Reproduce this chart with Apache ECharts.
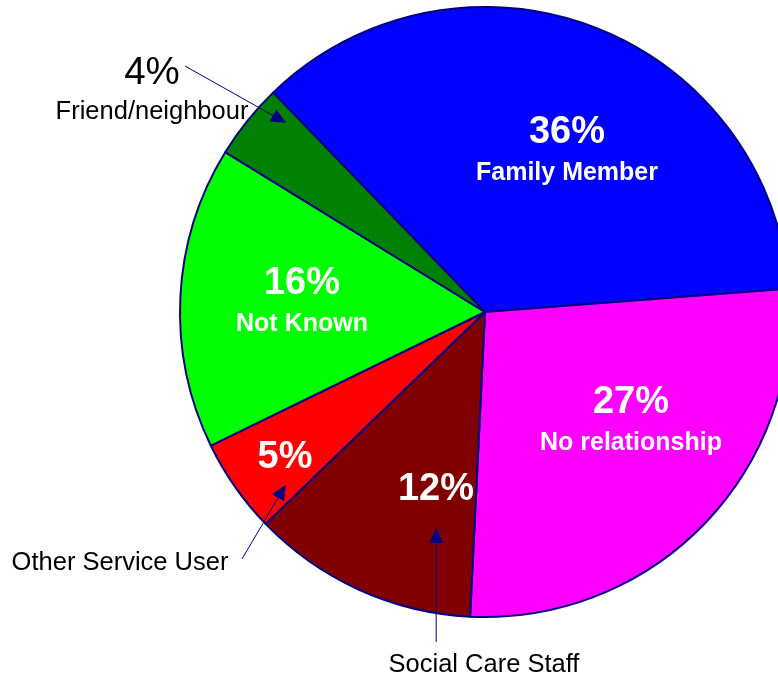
<!DOCTYPE html>
<html>
<head>
<meta charset="utf-8">
<script src="https://cdn.jsdelivr.net/npm/echarts@6/dist/echarts.min.js"></script>
<style>
  html, body { margin: 0; padding: 0; background: #ffffff; }
  #chart { width: 778px; height: 679px; }
</style>
</head>
<body>
<div id="chart"></div>
<script>
// Who the alleged abuser was, share of referrals (%)
const categories = ['Family Member', 'No relationship', 'Social Care Staff', 'Other Service User', 'Not Known', 'Friend/neighbour'];
const shares = [36, 27, 12, 5, 16, 4];

// Styling
const sliceColors = ['#0000ff', '#ff00ff', '#800000', '#ff0000', '#00ff00', '#008000'];
const OUTLINE = '#000080';
const FONT = '"Liberation Sans", Arial, Helvetica, sans-serif';

// Pie geometry (pixels / degrees, ECharts convention)
const CX = 485, CY = 312, R = 305;
const START = 134;

// How each slice is annotated: full label inside, percentage only, or black label outside
const labelKind = ['full', 'full', 'pct', 'pct', 'full', 'outside'];
// Where each label block is centred
const labelSpots = [[567, 153], [631, 423], [436, 490], [285, 458], [302, 304], [152, 93]];

// A point inside slice i: f = fraction across the slice, rho = fraction of the radius
function slicePoint(i, f, rho) {
  const total = shares.reduce((a, b) => a + b, 0);
  let cum = 0;
  for (let k = 0; k < i; k++) cum += shares[k];
  const deg = (90 - START) + 360 * (cum + f * shares[i]) / total;
  const a = deg * Math.PI / 180;
  return [CX + rho * R * Math.sin(a), CY - rho * R * Math.cos(a)];
}

// Thin navy arrow with a filled head ending at the tip
function arrow(from, tip) {
  const dx = tip[0] - from[0], dy = tip[1] - from[1];
  const len = Math.hypot(dx, dy);
  const ux = dx / len, uy = dy / len;
  const headLen = 15, headHalf = 7;
  const bx = tip[0] - ux * headLen, by = tip[1] - uy * headLen;
  return [
    { type: 'line', silent: true, z: 10,
      shape: { x1: from[0], y1: from[1], x2: bx, y2: by },
      style: { stroke: OUTLINE, lineWidth: 1 } },
    { type: 'polygon', silent: true, z: 10,
      shape: { points: [tip, [bx - uy * headHalf, by + ux * headHalf], [bx + uy * headHalf, by - ux * headHalf]] },
      style: { fill: OUTLINE } }
  ];
}

const pieData = categories.map((name, i) => ({
  name: name,
  value: shares[i],
  itemStyle: { color: sliceColors[i] }
}));

const idxFriend = categories.indexOf('Friend/neighbour');
const idxOther = categories.indexOf('Other Service User');
const idxStaff = categories.indexOf('Social Care Staff');

const friendTip = slicePoint(idxFriend, 0.83, 0.9);
const otherTip = slicePoint(idxOther, 0.17, 0.865);
const staffTip = slicePoint(idxStaff, 0.23, 0.726);

const graphics = [].concat(
  arrow([185, 66], friendTip),
  arrow([242, 559], otherTip),
  arrow([staffTip[0], 642], staffTip),
  [
    { type: 'text', silent: true, z: 10,
      style: { text: categories[idxOther], x: 120, y: 563, align: 'center', verticalAlign: 'middle',
               fontSize: 25.5, fontFamily: FONT, fill: '#000000' } },
    { type: 'text', silent: true, z: 10,
      style: { text: categories[idxStaff], x: 484, y: 665, align: 'center', verticalAlign: 'middle',
               fontSize: 25.5, fontFamily: FONT, fill: '#000000' } }
  ]
);

const chart = echarts.init(document.getElementById('chart'), null, { renderer: 'canvas' });
chart.setOption({
  animation: false,
  backgroundColor: '#ffffff',
  series: [{
    type: 'pie',
    center: [CX, CY],
    radius: R,
    startAngle: START,
    clockwise: true,
    silent: true,
    avoidLabelOverlap: false,
    emphasis: { disabled: true },
    itemStyle: { borderColor: OUTLINE, borderWidth: 2 },
    label: {
      show: true,
      position: 'inside',
      formatter: function (p) {
        const kind = labelKind[p.dataIndex];
        if (kind === 'full') return '{pw|' + p.value + '%}\n{nw|' + p.name + '}';
        if (kind === 'pct') return '{pw|' + p.value + '%}';
        return '{pb|' + p.value + '%}\n{nb|' + p.name + '}';
      },
      rich: {
        pw: { color: '#ffffff', fontFamily: FONT, fontWeight: 'bold', fontSize: 38, lineHeight: 40, align: 'center' },
        nw: { color: '#ffffff', fontFamily: FONT, fontWeight: 'bold', fontSize: 25, lineHeight: 40, align: 'center' },
        pb: { color: '#000000', fontFamily: FONT, fontSize: 38.5, lineHeight: 38.5, align: 'center' },
        nb: { color: '#000000', fontFamily: FONT, fontSize: 25.5, lineHeight: 38.5, align: 'center' }
      }
    },
    labelLine: { show: false },
    labelLayout: function (params) {
      const spot = labelSpots[params.dataIndex];
      return { x: spot[0], y: spot[1], align: 'center', verticalAlign: 'middle' };
    },
    data: pieData
  }],
  graphic: graphics
});
</script>
</body>
</html>
